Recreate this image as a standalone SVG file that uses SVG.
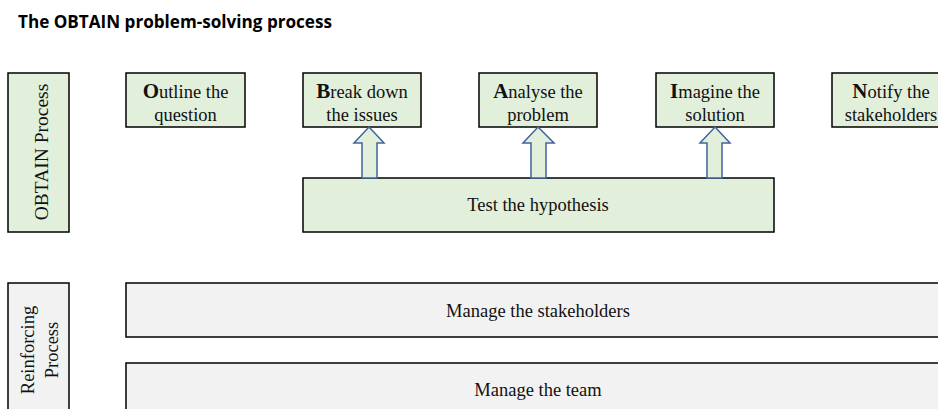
<svg xmlns="http://www.w3.org/2000/svg" width="938" height="409" viewBox="0 0 938 409">
<style>
.g{fill:#E2EFDA;stroke:#000;stroke-width:1.5}
.r{fill:#F2F2F2;stroke:#000;stroke-width:1.5}
.t{font-family:"Liberation Serif","Times New Roman",serif;font-size:18.5px;fill:#111;text-anchor:middle}
.b{font-weight:bold;font-size:21px}
.arr{fill:#E2EFDA;stroke:#41649C;stroke-width:1.5}
.title{font-family:"Open Sans","Liberation Sans",sans-serif;font-size:18px;font-weight:700;fill:#000}
</style>
<rect width="938" height="409" fill="#fff"/>
<text class="title" x="18" y="28" textLength="314" lengthAdjust="spacingAndGlyphs">The OBTAIN problem-solving process</text>
<g id="obtain-process"><rect class="g" x="8" y="73" width="61" height="159"/><text class="t" transform="translate(48,152) rotate(-90)" style="font-size:19.5px">OBTAIN Process</text></g>
<g id="outline"><rect class="g" x="126" y="73" width="119" height="54"/><text class="t" x="185.5" y="97.5"><tspan class="b">O</tspan>utline the</text><text class="t" x="185.5" y="120.5">question</text></g>
<g id="break"><rect class="g" x="303" y="73" width="118" height="54"/><text class="t" x="362" y="97.5"><tspan class="b">B</tspan>reak down</text><text class="t" x="362" y="120.5">the issues</text></g>
<g id="analyse"><rect class="g" x="479" y="73" width="118" height="54"/><text class="t" x="538" y="97.5"><tspan class="b">A</tspan>nalyse the</text><text class="t" x="538" y="120.5">problem</text></g>
<g id="imagine"><rect class="g" x="656" y="73" width="118" height="54"/><text class="t" x="715" y="97.5"><tspan class="b">I</tspan>magine the</text><text class="t" x="715" y="120.5">solution</text></g>
<g id="notify"><rect class="g" x="832" y="73" width="118" height="54"/><text class="t" x="891" y="97.5"><tspan class="b">N</tspan>otify the</text><text class="t" x="891" y="120.5">stakeholders</text></g>
<g id="test"><rect class="g" x="303" y="178" width="471" height="54"/><text class="t" x="538" y="211">Test the hypothesis</text></g>
<g id="connectors">
<path class="arr" d="M369 127 L384 143 L377 143 L377 178 L362 178 L362 143 L354 143 Z"/>
<path class="arr" d="M538 127 L554 143 L546 143 L546 178 L531 178 L531 143 L523 143 Z"/>
<path class="arr" d="M715 127 L730 143 L722 143 L722 178 L707 178 L707 143 L700 143 Z"/>
</g>
<g id="reinforcing"><rect class="r" x="8" y="283" width="61" height="140"/><text class="t" transform="translate(34,350) rotate(-90)" style="font-size:18.5px">Reinforcing</text><text class="t" transform="translate(58,350) rotate(-90)" style="font-size:18.5px">Process</text></g>
<g id="stakeholders"><rect class="r" x="126" y="283" width="820" height="54"/><text class="t" x="538" y="317">Manage the stakeholders</text></g>
<g id="team"><rect class="r" x="126" y="363" width="820" height="60"/><text class="t" x="538" y="396">Manage the team</text></g>
</svg>
